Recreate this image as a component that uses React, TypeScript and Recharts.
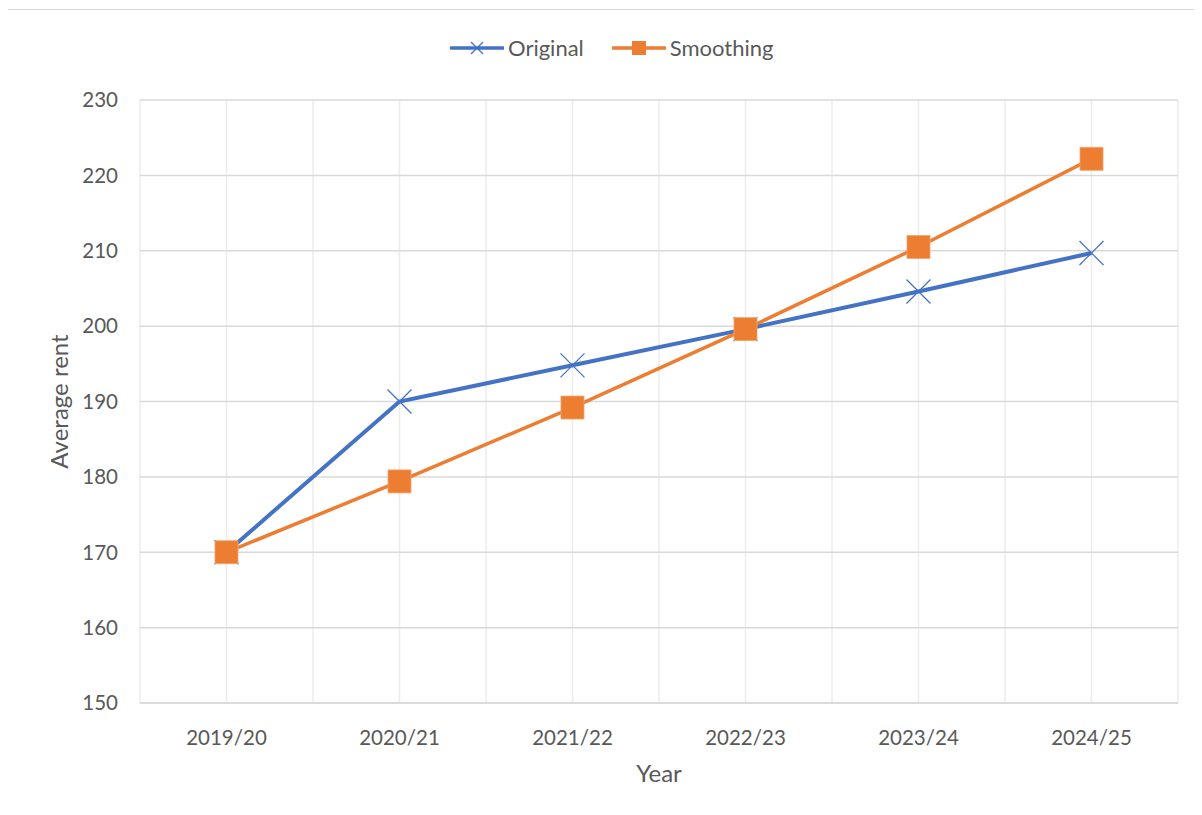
import { FC } from "react";
import {
  LineChart,
  Line,
  XAxis,
  YAxis,
  CartesianGrid,
} from "recharts";

const years = ["2019/20", "2020/21", "2021/22", "2022/23", "2023/24", "2024/25"];
const original = [170, 190, 194.8, 199.6, 204.6, 209.7];
const smoothing = [170, 179.4, 189.2, 199.6, 210.5, 222.2];
const yTicks = [150, 160, 170, 180, 190, 200, 210, 220, 230];

const BLUE = "#4472C4";
const ORANGE = "#ED7D31";
const TEXT = "#595959";
const FONT = "Lato, 'Open Sans', sans-serif";

const data = years.map((year, i) => ({
  idx: i,
  year,
  original: original[i],
  smoothing: smoothing[i],
}));

// gridlines sit at every category centre and boundary, like the Excel chart
const xTicks: number[] = [];
for (let i = 0; i <= years.length * 2; i++) xTicks.push(i / 2 - 0.5);

const CrossDot = (props: any) => {
  const { cx, cy } = props;
  if (cx == null || cy == null) return null;
  const s = 12;
  return (
    <g>
      <line x1={cx - s} y1={cy - s} x2={cx + s} y2={cy + s} stroke={BLUE} strokeWidth={1.2} />
      <line x1={cx - s} y1={cy + s} x2={cx + s} y2={cy - s} stroke={BLUE} strokeWidth={1.2} />
    </g>
  );
};

const SquareDot = (props: any) => {
  const { cx, cy } = props;
  if (cx == null || cy == null) return null;
  const s = 11.5;
  return <rect x={cx - s} y={cy - s} width={s * 2} height={s * 2} fill={ORANGE} stroke="#F4A46E" strokeWidth={0.8} />;
};

const LegendBox: FC = () => (
  <div
    style={{
      position: "absolute",
      left: 443,
      top: 24,
      display: "flex",
      alignItems: "center",
      fontFamily: FONT,
      fontSize: 22,
      color: TEXT,
    }}
  >
    <svg width={54} height={20}>
      <line x1={1} y1={10} x2={53} y2={10} stroke={BLUE} strokeWidth={3.5} strokeLinecap="round" />
      <line x1={21} y1={4} x2={33} y2={16} stroke={BLUE} strokeWidth={1.2} />
      <line x1={21} y1={16} x2={33} y2={4} stroke={BLUE} strokeWidth={1.2} />
    </svg>
    <span style={{ marginLeft: 4 }}>Original</span>
    <svg width={54} height={20} style={{ marginLeft: 28 }}>
      <line x1={1} y1={10} x2={53} y2={10} stroke={ORANGE} strokeWidth={3.5} strokeLinecap="round" />
      <rect x={20} y={3} width={14} height={14} fill={ORANGE} />
    </svg>
    <span style={{ marginLeft: 4 }}>Smoothing</span>
  </div>
);

const App: FC = () => {
  return (
    <div
      style={{
        position: "relative",
        width: 1195,
        height: 805,
        marginLeft: -2,
        marginTop: 1,
        borderLeft: "1px solid #d9d9d9",
        borderTop: "1px solid #d9d9d9",
      }}
    >
      <LegendBox />
      <LineChart
        width={1195}
        height={805}
        data={data}
        margin={{ top: 90, right: 24, left: 0, bottom: 0 }}
      >
        <CartesianGrid horizontal={false} stroke="#ececec" strokeWidth={1.5} />
        <CartesianGrid vertical={false} stroke="#d9d9d9" strokeWidth={1.5} />
        <XAxis
          dataKey="idx"
          type="number"
          domain={[-0.5, years.length - 0.5]}
          ticks={xTicks}
          interval={0}
          tickFormatter={(v: number) => (Number.isInteger(v) ? years[v] : "")}
          height={112}
          tickLine={false}
          tickSize={0}
          tickMargin={27}
          axisLine={{ stroke: "#d9d9d9", strokeWidth: 1.5 }}
          tick={{ fill: TEXT, fontSize: 20.5, fontFamily: FONT }}
          label={{
            value: "Year",
            position: "center",
            dy: 14,
            fill: TEXT,
            fontSize: 24,
            fontFamily: FONT,
          }}
        />
        <YAxis
          type="number"
          domain={[150, 230]}
          ticks={yTicks}
          interval={0}
          width={133}
          axisLine={false}
          tickLine={false}
          tickSize={0}
          tickMargin={22}
          tick={{ fill: TEXT, fontSize: 20.5, fontFamily: FONT }}
          label={{
            value: "Average rent",
            angle: -90,
            position: "center",
            dx: -14,
            fill: TEXT,
            fontSize: 24,
            fontFamily: FONT,
          }}
        />
        <Line
          type="linear"
          dataKey="original"
          stroke={BLUE}
          strokeWidth={4}
          dot={<CrossDot />}
          activeDot={false}
          isAnimationActive={false}
        />
        <Line
          type="linear"
          dataKey="smoothing"
          stroke={ORANGE}
          strokeWidth={3.5}
          dot={<SquareDot />}
          activeDot={false}
          isAnimationActive={false}
        />
      </LineChart>
    </div>
  );
};

export default App;
